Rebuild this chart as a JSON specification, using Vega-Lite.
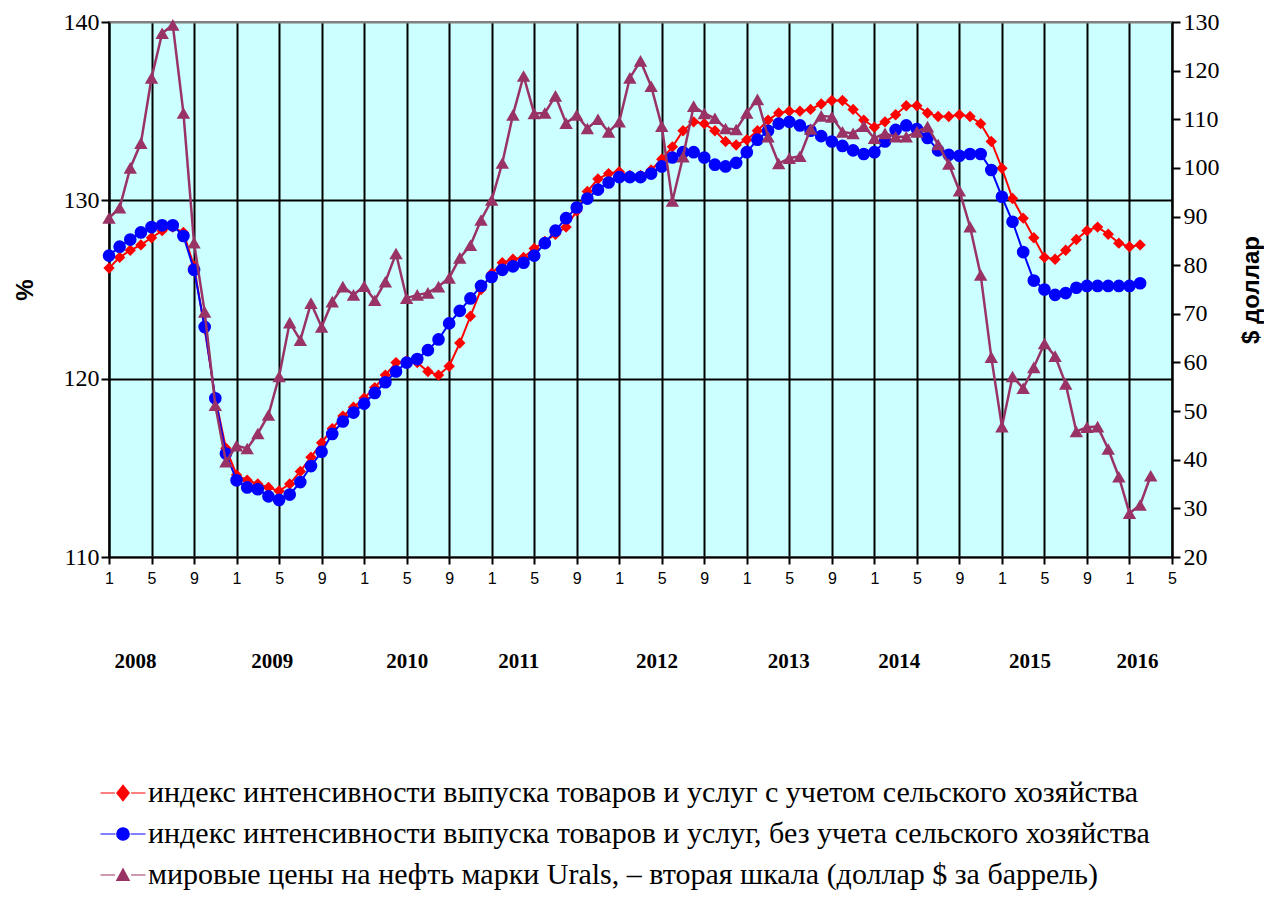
{
  "$schema": "https://vega.github.io/schema/vega-lite/v6.json",
  "width": 1063,
  "height": 535,
  "autosize": {"type": "none"},
  "padding": {"left": 109, "top": 22, "right": 92, "bottom": 340},
  "background": "white",
  "config": {"view": {"fill": "#CCFFFF", "stroke": "#808080", "strokeWidth": 2}},
  "data": {"values": [
    {"m":0,"red":126.2,"blue":126.9,"oil":89.7},
    {"m":1,"red":126.8,"blue":127.4,"oil":91.8},
    {"m":2,"red":127.2,"blue":127.8,"oil":100.0},
    {"m":3,"red":127.5,"blue":128.2,"oil":105.1},
    {"m":4,"red":127.9,"blue":128.5,"oil":118.5},
    {"m":5,"red":128.3,"blue":128.6,"oil":127.7},
    {"m":6,"red":128.5,"blue":128.6,"oil":129.4},
    {"m":7,"red":128.2,"blue":128.0,"oil":111.3},
    {"m":8,"red":126.3,"blue":126.1,"oil":84.6},
    {"m":9,"red":122.8,"blue":122.9,"oil":70.4},
    {"m":10,"red":118.9,"blue":118.9,"oil":51.2},
    {"m":11,"red":116.1,"blue":115.8,"oil":39.6},
    {"m":12,"red":114.6,"blue":114.3,"oil":42.9},
    {"m":13,"red":114.3,"blue":113.9,"oil":42.3},
    {"m":14,"red":114.1,"blue":113.8,"oil":45.4},
    {"m":15,"red":113.9,"blue":113.4,"oil":49.2},
    {"m":16,"red":113.7,"blue":113.2,"oil":57.1},
    {"m":17,"red":114.1,"blue":113.5,"oil":68.2},
    {"m":18,"red":114.8,"blue":114.2,"oil":64.6},
    {"m":19,"red":115.6,"blue":115.1,"oil":72.2},
    {"m":20,"red":116.4,"blue":115.9,"oil":67.3},
    {"m":21,"red":117.2,"blue":116.9,"oil":72.5},
    {"m":22,"red":117.9,"blue":117.6,"oil":75.6},
    {"m":23,"red":118.4,"blue":118.1,"oil":73.9},
    {"m":24,"red":118.9,"blue":118.6,"oil":75.7},
    {"m":25,"red":119.5,"blue":119.2,"oil":72.8},
    {"m":26,"red":120.2,"blue":119.8,"oil":76.6},
    {"m":27,"red":120.9,"blue":120.4,"oil":82.4},
    {"m":28,"red":121.0,"blue":120.9,"oil":73.2},
    {"m":29,"red":120.9,"blue":121.1,"oil":73.9},
    {"m":30,"red":120.4,"blue":121.6,"oil":74.3},
    {"m":31,"red":120.2,"blue":122.2,"oil":75.6},
    {"m":32,"red":120.7,"blue":123.1,"oil":77.4},
    {"m":33,"red":122.0,"blue":123.8,"oil":81.5},
    {"m":34,"red":123.5,"blue":124.5,"oil":84.1},
    {"m":35,"red":125.0,"blue":125.2,"oil":89.3},
    {"m":36,"red":125.9,"blue":125.7,"oil":93.4},
    {"m":37,"red":126.5,"blue":126.1,"oil":101.0},
    {"m":38,"red":126.7,"blue":126.3,"oil":110.9},
    {"m":39,"red":126.8,"blue":126.5,"oil":118.9},
    {"m":40,"red":127.3,"blue":126.9,"oil":111.2},
    {"m":41,"red":127.7,"blue":127.6,"oil":111.3},
    {"m":42,"red":128.1,"blue":128.3,"oil":114.8},
    {"m":43,"red":128.5,"blue":129.0,"oil":109.2},
    {"m":44,"red":129.4,"blue":129.6,"oil":110.9},
    {"m":45,"red":130.5,"blue":130.1,"oil":108.1},
    {"m":46,"red":131.2,"blue":130.6,"oil":110.0},
    {"m":47,"red":131.5,"blue":131.0,"oil":107.4},
    {"m":48,"red":131.6,"blue":131.3,"oil":109.5},
    {"m":49,"red":131.4,"blue":131.3,"oil":118.5},
    {"m":50,"red":131.4,"blue":131.3,"oil":122.0},
    {"m":51,"red":131.7,"blue":131.5,"oil":116.8},
    {"m":52,"red":132.3,"blue":131.9,"oil":108.6},
    {"m":53,"red":133.0,"blue":132.4,"oil":93.2},
    {"m":54,"red":133.9,"blue":132.7,"oil":102.3},
    {"m":55,"red":134.4,"blue":132.7,"oil":112.7},
    {"m":56,"red":134.3,"blue":132.4,"oil":111.2},
    {"m":57,"red":133.9,"blue":132.0,"oil":110.2},
    {"m":58,"red":133.3,"blue":131.9,"oil":108.1},
    {"m":59,"red":133.1,"blue":132.1,"oil":107.9},
    {"m":60,"red":133.4,"blue":132.7,"oil":111.3},
    {"m":61,"red":133.9,"blue":133.4,"oil":114.1},
    {"m":62,"red":134.5,"blue":133.9,"oil":106.4},
    {"m":63,"red":134.9,"blue":134.3,"oil":100.9},
    {"m":64,"red":135.0,"blue":134.4,"oil":102.0},
    {"m":65,"red":135.0,"blue":134.2,"oil":102.4},
    {"m":66,"red":135.1,"blue":133.9,"oil":108.0},
    {"m":67,"red":135.4,"blue":133.6,"oil":110.7},
    {"m":68,"red":135.6,"blue":133.3,"oil":110.5},
    {"m":69,"red":135.6,"blue":133.05,"oil":107.4},
    {"m":70,"red":135.1,"blue":132.8,"oil":107.1},
    {"m":71,"red":134.5,"blue":132.6,"oil":108.6},
    {"m":72,"red":134.1,"blue":132.7,"oil":106.1},
    {"m":73,"red":134.4,"blue":133.3,"oil":107.1},
    {"m":74,"red":134.8,"blue":133.95,"oil":106.4},
    {"m":75,"red":135.3,"blue":134.2,"oil":106.4},
    {"m":76,"red":135.3,"blue":134.0,"oil":107.4},
    {"m":77,"red":134.9,"blue":133.5,"oil":108.5},
    {"m":78,"red":134.7,"blue":132.8,"oil":104.8},
    {"m":79,"red":134.7,"blue":132.55,"oil":100.8},
    {"m":80,"red":134.8,"blue":132.5,"oil":95.3},
    {"m":81,"red":134.7,"blue":132.6,"oil":87.9},
    {"m":82,"red":134.3,"blue":132.6,"oil":78.0},
    {"m":83,"red":133.3,"blue":131.7,"oil":61.1},
    {"m":84,"red":131.8,"blue":130.2,"oil":46.8},
    {"m":85,"red":130.1,"blue":128.8,"oil":57.1},
    {"m":86,"red":129.0,"blue":127.1,"oil":54.7},
    {"m":87,"red":127.9,"blue":125.5,"oil":59.0},
    {"m":88,"red":126.8,"blue":125.0,"oil":63.9},
    {"m":89,"red":126.7,"blue":124.7,"oil":61.3},
    {"m":90,"red":127.2,"blue":124.8,"oil":55.6},
    {"m":91,"red":127.8,"blue":125.1,"oil":45.8},
    {"m":92,"red":128.3,"blue":125.2,"oil":46.7},
    {"m":93,"red":128.5,"blue":125.2,"oil":46.8},
    {"m":94,"red":128.1,"blue":125.2,"oil":42.2},
    {"m":95,"red":127.6,"blue":125.2,"oil":36.5},
    {"m":96,"red":127.4,"blue":125.2,"oil":29.0},
    {"m":97,"red":127.5,"blue":125.35,"oil":30.7},
    {"m":98,"red":null,"blue":null,"oil":36.7}
  ]},
  "layer": [
    {
      "encoding": {
        "x": {
          "field": "m", "type": "quantitative",
          "scale": {"domain": [0, 100], "nice": false, "zero": false},
          "axis": {
            "title": null,
            "values": [0,4,8,12,16,20,24,28,32,36,40,44,48,52,56,60,64,68,72,76,80,84,88,92,96,100],
            "labelExpr": "(datum.value % 12) + 1",
            "labelFont": "Liberation Sans", "labelFontSize": 16, "labelColor": "black",
            "labelPadding": 6, "labelFlush": false, "labelOverlap": false,
            "tickSize": 7, "tickColor": "black", "tickWidth": 2,
            "domainColor": "black", "domainWidth": 2,
            "grid": true, "gridColor": "black", "gridWidth": 2, "gridOpacity": 1
          }
        }
      },
      "layer": [
        {
          "mark": {"type": "line", "strokeWidth": 2},
          "encoding": {
            "y": {
              "field": "red", "type": "quantitative", "title": "%",
              "scale": {"domain": [110, 140], "nice": false, "zero": false},
              "axis": {
                "orient": "left",
                "values": [110, 120, 130, 140],
                "labelFont": "Liberation Serif", "labelFontSize": 24, "labelColor": "black",
                "labelPadding": 2, "labelFlush": false,
                "tickSize": 8, "tickColor": "black", "tickWidth": 2,
                "domainColor": "black", "domainWidth": 2,
                "grid": true, "gridWidth": 2, "gridOpacity": 1,
                "gridColor": {"condition": {"test": "datum.value == 140 || datum.value == 110", "value": "#808080"}, "value": "black"},
                "titleFont": "Liberation Sans", "titleFontWeight": "bold", "titleFontSize": 24, "titleColor": "black",
                "titlePadding": 26
              }
            },
            "color": {
              "datum": "a", "type": "nominal",
              "scale": {"domain": ["a", "b", "c"], "range": ["#FF0000", "#0000FF", "#993366"]},
              "legend": {
                "orient": "none", "legendX": -1, "legendY": 756, "direction": "vertical", "title": null,
                "padding": 0, "labelFont": "Liberation Serif", "labelFontSize": 30, "labelColor": "black",
                "labelLimit": 1500, "labelOffset": 10, "rowPadding": 11, "symbolSize": 156,
                "labelExpr": "datum.value === 'a' ? 'индекс интенсивности выпуска товаров и услуг с учетом сельского хозяйства' : datum.value === 'b' ? 'индекс интенсивности выпуска товаров и услуг, без учета сельского хозяйства' : 'мировые цены на нефть марки Urals, – вторая шкала (доллар $ за баррель)'",
                "encode": {
                  "symbols": {
                    "update": {
                      "shape": {"signal": "datum.value === 'a' ? 'M-3.6,0H-1.3M1.3,0H3.6M-1,0L0,-1.25L1,0L0,1.25Z' : datum.value === 'b' ? 'M-3.6,0H-1.2M1.2,0H3.6M-1,0A1,1 0 1,0 1,0A1,1 0 1,0 -1,0Z' : 'M-3.6,0H-1.3M1.3,0H3.6M-1,0.85L0,-1.0L1,0.85Z'"},
                      "fill": {"signal": "datum.value === 'a' ? '#FF0000' : datum.value === 'b' ? '#0000FF' : '#993300'"},
                      "fillOpacity": {"value": 1},
                      "opacity": {"value": 1},
                      "stroke": {"value": "black"},
                      "strokeWidth": {"value": 1.2},
                      "size": {"value": 156}
                    }
                  }
                }
              }
            }
          }
        },
        {
          "mark": {"type": "point", "shape": "diamond", "filled": true, "size": 130, "opacity": 1},
          "encoding": {
            "y": {"field": "red", "type": "quantitative", "title": "%"},
            "color": {"datum": "a", "type": "nominal"}
          }
        },
        {
          "mark": {"type": "line", "strokeWidth": 2},
          "encoding": {
            "y": {"field": "blue", "type": "quantitative", "title": "%"},
            "color": {"datum": "b", "type": "nominal"}
          }
        },
        {
          "mark": {"type": "point", "shape": "circle", "filled": true, "size": 160, "opacity": 1},
          "encoding": {
            "y": {"field": "blue", "type": "quantitative", "title": "%"},
            "color": {"datum": "b", "type": "nominal"}
          }
        }
      ]
    },
    {
      "encoding": {
        "x": {
          "field": "m", "type": "quantitative",
          "axis": {
            "orient": "bottom",
            "title": null,
            "values": [2.45, 15.3, 28.0, 38.5, 51.5, 63.9, 74.3, 86.6, 96.7],
            "labelExpr": "datum.value < 9 ? '2008' : datum.value < 21 ? '2009' : datum.value < 33 ? '2010' : datum.value < 45 ? '2011' : datum.value < 57 ? '2012' : datum.value < 69 ? '2013' : datum.value < 80 ? '2014' : datum.value < 92 ? '2015' : '2016'",
            "labelFont": "Liberation Serif", "labelFontSize": 21, "labelFontWeight": "bold", "labelColor": "black",
            "labelPadding": 93, "labelFlush": false, "labelOverlap": false,
            "ticks": false, "tickSize": 0, "domain": false, "grid": false
          }
        }
      },
      "layer": [
        {
          "mark": {"type": "line", "strokeWidth": 2.5},
          "encoding": {
            "y": {
              "field": "oil", "type": "quantitative", "title": "$ доллар",
              "scale": {"domain": [20, 130], "nice": false, "zero": false},
              "axis": {
                "orient": "right",
                "values": [20, 30, 40, 50, 60, 70, 80, 90, 100, 110, 120, 130],
                "labelFont": "Liberation Serif", "labelFontSize": 24, "labelColor": "black",
                "labelPadding": 3, "labelFlush": false,
                "tickSize": 8, "tickColor": "black", "tickWidth": 2,
                "domainColor": "black", "domainWidth": 2, "grid": false,
                "titleFont": "Liberation Sans", "titleFontWeight": "bold", "titleFontSize": 24, "titleColor": "black",
                "titleAngle": 270, "titlePadding": 44
              }
            },
            "color": {"datum": "c", "type": "nominal"}
          }
        },
        {
          "mark": {"type": "point", "shape": "triangle-up", "filled": true, "size": 180, "opacity": 1},
          "encoding": {
            "y": {"field": "oil", "type": "quantitative", "title": "$ доллар"},
            "color": {"datum": "c", "type": "nominal"}
          }
        }
      ]
    }
  ],
  "resolve": {"scale": {"y": "independent"}, "axis": {"x": "independent", "y": "independent"}}
}
